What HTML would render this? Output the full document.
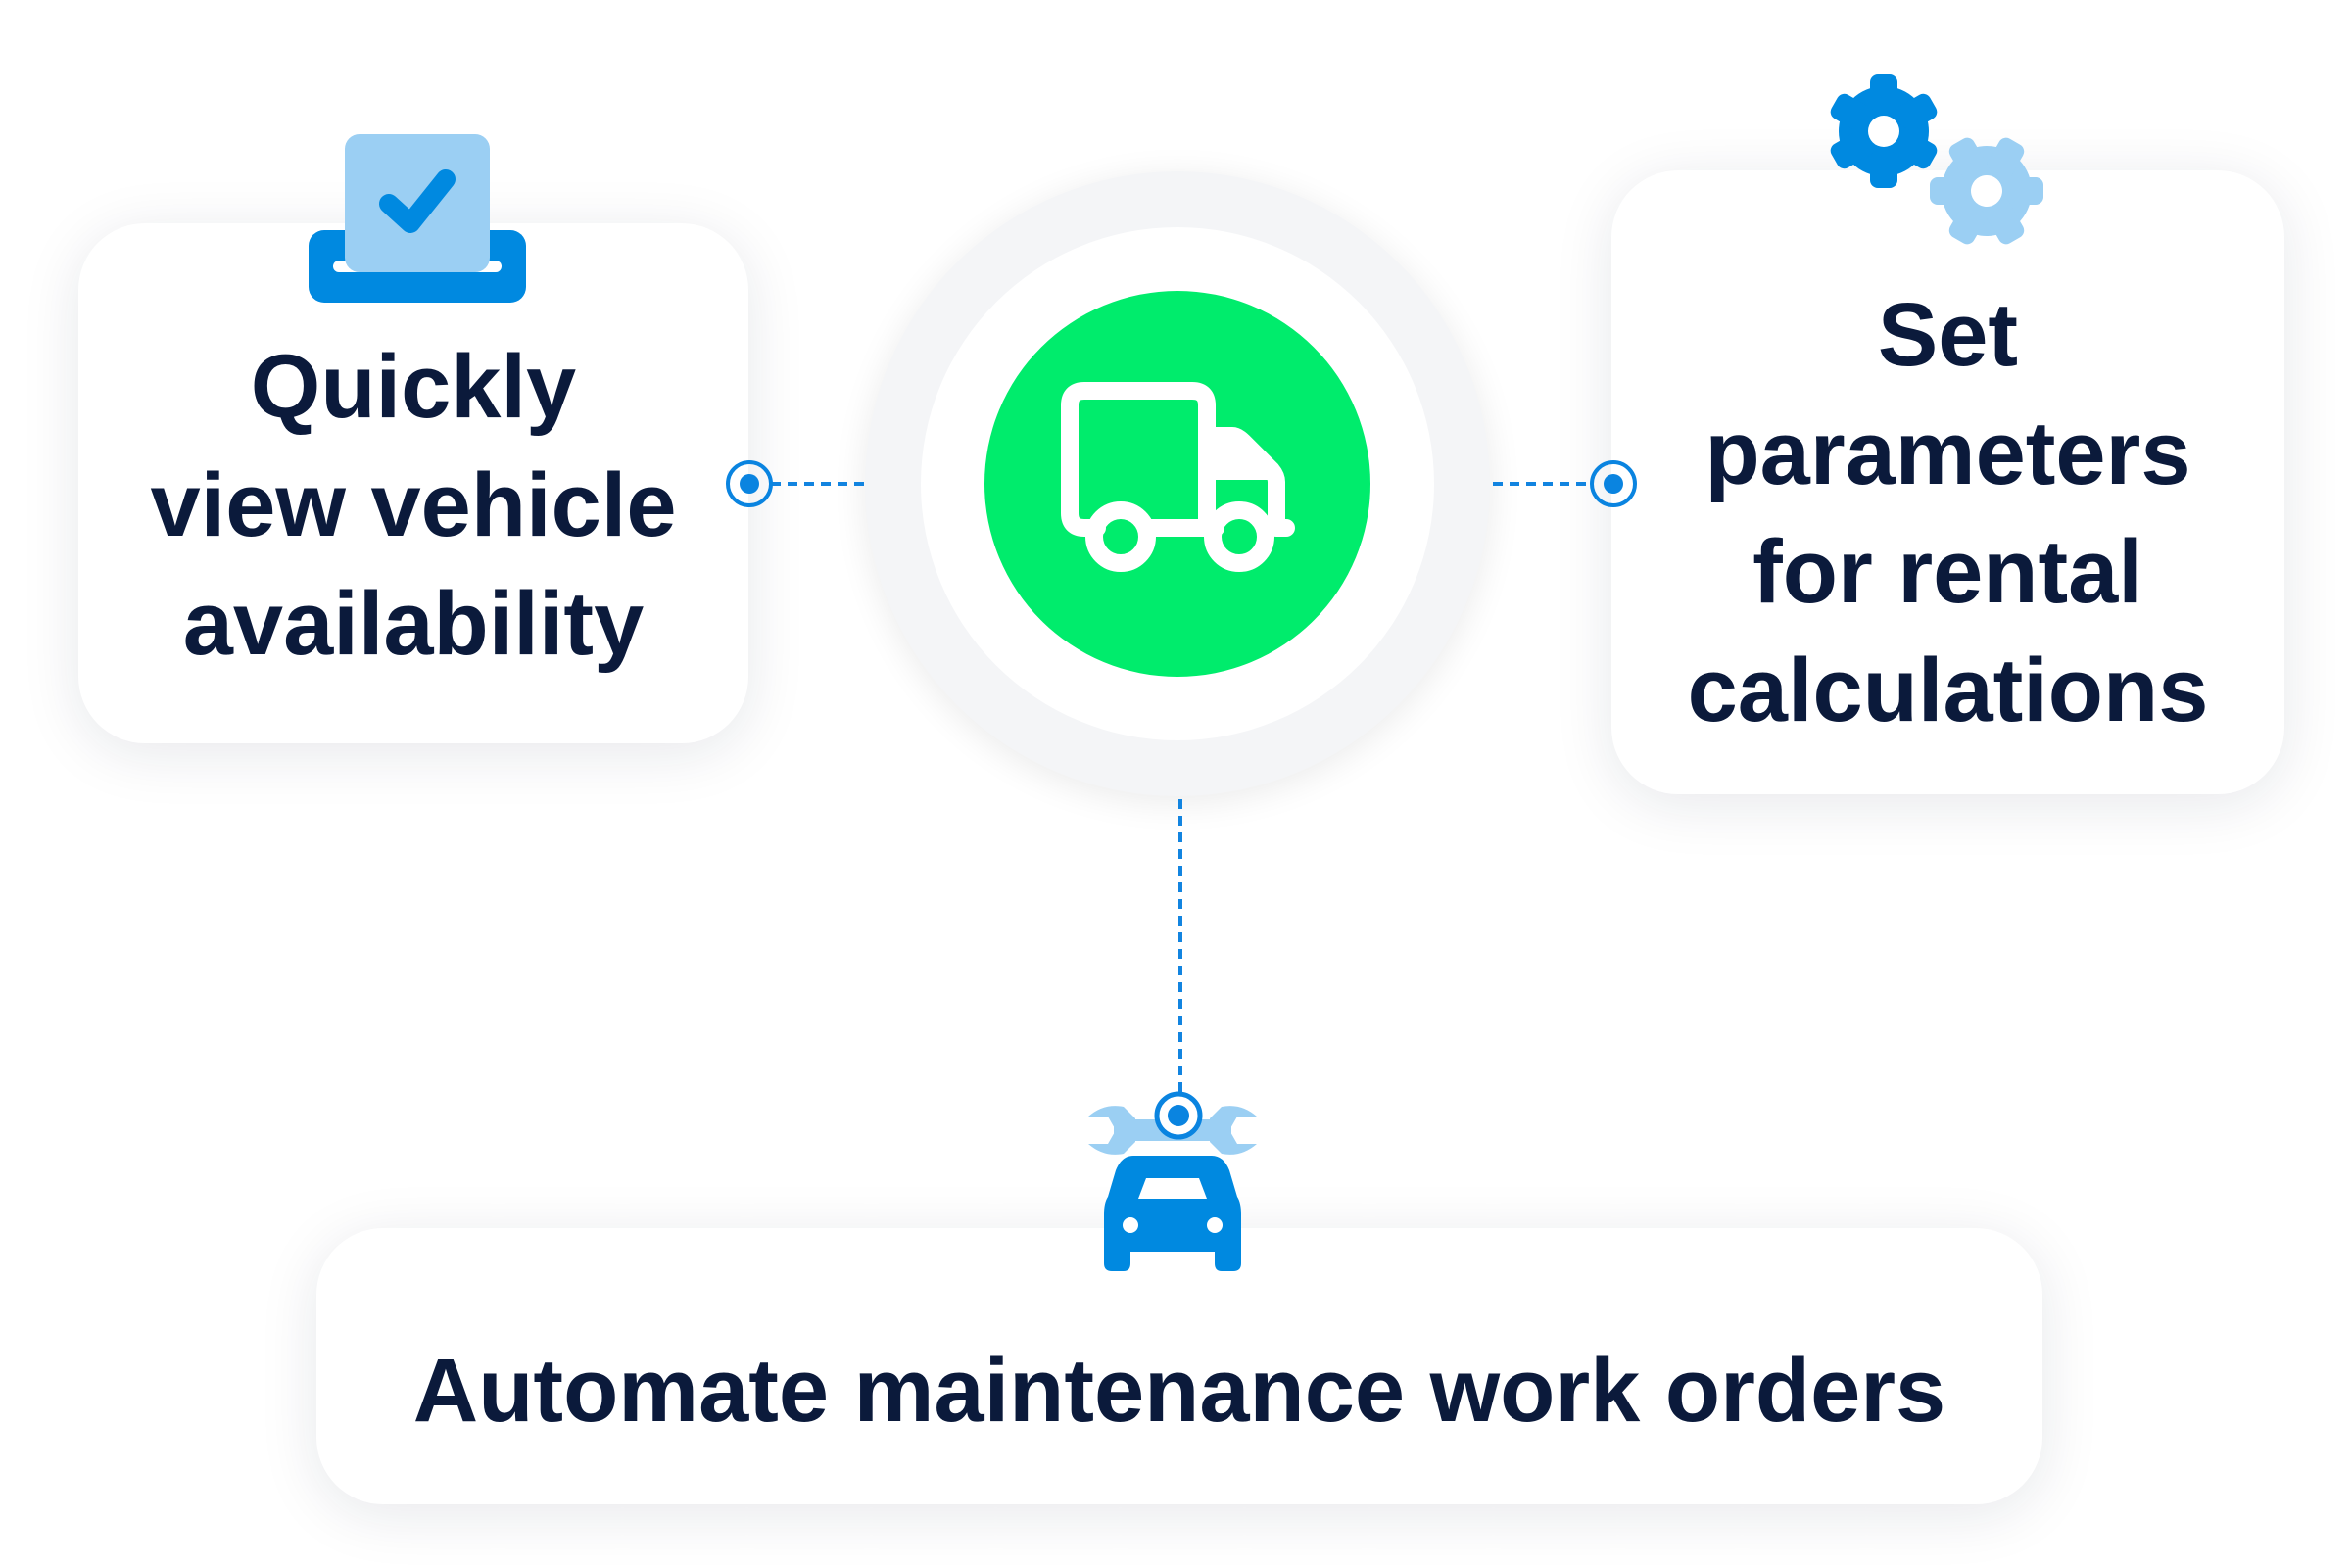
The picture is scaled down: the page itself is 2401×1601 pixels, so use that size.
<!DOCTYPE html>
<html><head><meta charset="utf-8"><style>
html,body{margin:0;padding:0;background:#fff}
body{width:2401px;height:1601px;position:relative;overflow:hidden;font-family:"Liberation Sans",sans-serif;color:#0b1a3b}
.box{position:absolute;background:#fff;border-radius:68px;box-shadow:0 10px 60px rgba(20,30,60,0.10)}
.t{position:absolute;text-align:center;font-size:92px;line-height:121px;font-weight:bold;letter-spacing:0px}
</style></head><body>
<div class="box" style="left:80px;top:228px;width:684px;height:531px"></div>
<div class="box" style="left:1645px;top:174px;width:687px;height:637px"></div>
<div class="box" style="left:323px;top:1254px;width:1762px;height:282px"></div>
<div class="t" style="left:80px;top:335px;width:684px">Quickly<br>view vehicle<br>availability</div>
<div class="t" style="left:1645px;top:282px;width:687px">Set<br>parameters<br>for rental<br>calculations</div>
<div class="t" style="left:323px;top:1360px;width:1762px">Automate maintenance work orders</div>
<svg width="2401" height="1601" style="position:absolute;left:0;top:0">
<defs><filter id="sh" x="-30%" y="-30%" width="160%" height="160%"><feGaussianBlur stdDeviation="18"/></filter></defs>
<g transform="translate(-5,0)">
<circle cx="1207" cy="500" r="319" fill="#000" opacity="0.08" filter="url(#sh)"/>
<circle cx="1207" cy="494" r="319" fill="#f4f5f7"/>
<circle cx="1207" cy="494" r="262" fill="#fff"/>
<circle cx="1207" cy="494" r="197" fill="#00ec6c"/>
<g fill="none" stroke="#fff" stroke-width="18" stroke-linecap="round" stroke-linejoin="round">
<path d="M1125 539 H1112 Q1097 539 1097 524 V414 Q1097 399 1112 399 H1222 Q1237 399 1237 414 V539 H1175"/>
<path d="M1237 445 H1263 Q1268 445 1274 451 L1303 480 Q1308 486 1308 492 V539 H1318"/>
<path d="M1237 481 H1300"/>
<path d="M1237 539 H1246"/>
<circle cx="1149" cy="548" r="27"/>
<circle cx="1270" cy="548" r="27"/>
</g>
<path d="M1237 481 L1300 481 L1237 430 Z" fill="#fff"/>
</g>
<g stroke="#1284e0" stroke-width="4" stroke-dasharray="10,7" fill="none">
<path d="M787 494 H885"/><path d="M1524 494 H1625"/><path d="M1205 816 V1120"/>
</g>
<g fill="none" stroke="#0a84e0" stroke-width="4">
<circle cx="765" cy="494" r="22"/><circle cx="1647" cy="494" r="22"/>
</g>
<circle cx="765" cy="494" r="10" fill="#0a84e0"/><circle cx="1647" cy="494" r="10" fill="#0a84e0"/>
<rect x="315" y="235" width="222" height="74" rx="16" fill="#0089e0"/>
<rect x="340" y="266" width="172" height="12" rx="6" fill="#fff"/>
<rect x="352" y="137" width="148" height="141" rx="15" fill="#9bcff3"/>
<path d="M397 208 L419 228 L455 183" fill="none" stroke="#0089e0" stroke-width="20" stroke-linecap="round" stroke-linejoin="round"/>
<g transform="translate(1923,134)" fill="#0089e0">
<circle r="46"/>
<rect x="-14" y="-58" width="28" height="116" rx="8"/><rect x="-14" y="-58" width="28" height="116" rx="8" transform="rotate(60)"/><rect x="-14" y="-58" width="28" height="116" rx="8" transform="rotate(120)"/>
<circle r="16" fill="#fff"/>
</g>
<g transform="translate(2028,195) rotate(30)" fill="#9bcff3">
<circle r="46"/>
<rect x="-14" y="-58" width="28" height="116" rx="8"/><rect x="-14" y="-58" width="28" height="116" rx="8" transform="rotate(60)"/><rect x="-14" y="-58" width="28" height="116" rx="8" transform="rotate(120)"/>
<circle r="16" fill="#fff"/>
</g>
<g transform="translate(-3,0)">
<g fill="#9bcff3">
<rect x="1140" y="1143" width="120" height="22"/>
<path d="M1114 1140 Q1130 1126 1150 1130 L1162 1142 V1166 L1150 1178 Q1130 1182 1114 1168 H1134 L1142 1154 L1134 1140 Z"/>
<path d="M1286 1140 Q1270 1126 1250 1130 L1238 1142 V1166 L1250 1178 Q1270 1182 1286 1168 H1266 L1258 1154 L1266 1140 Z"/>
</g>
<circle cx="1206" cy="1139" r="22" fill="#fff" stroke="#0a84e0" stroke-width="5"/>
<circle cx="1206" cy="1139" r="11" fill="#0a84e0"/>
<path d="M1160 1180 H1240 Q1252 1180 1258 1195 L1266 1222 Q1270 1228 1270 1240 V1290 Q1270 1298 1262 1298 H1250 Q1243 1298 1243 1290 V1278 H1157 V1290 Q1157 1298 1150 1298 H1138 Q1130 1298 1130 1290 V1240 Q1130 1228 1134 1222 L1142 1195 Q1148 1180 1160 1180 Z" fill="#0089e0"/>
<path d="M1173 1203 H1227 L1235 1224 H1165 Z" fill="#fff"/>
<circle cx="1157" cy="1251" r="8" fill="#fff"/><circle cx="1243" cy="1251" r="8" fill="#fff"/>
</g>
</svg>
</body></html>
